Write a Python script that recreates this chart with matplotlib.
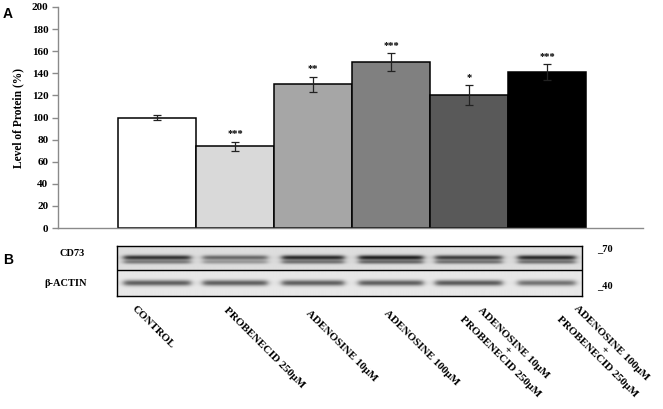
import numpy as np
import matplotlib.pyplot as plt

# Level of protein (%) for each treatment
groups = ['CONTROL', 'PROBENECID 250μM', 'ADENOSINE 10μM', 'ADENOSINE 100μM',
          'ADENOSINE 10μM\n+\nPROBENECID 250μM', 'ADENOSINE 100μM\n+\nPROBENECID 250μM']
levels = [100, 74, 130, 150, 120, 141]
errors = [2, 4, 7, 8, 9, 7]
stars = ['', '***', '**', '***', '*', '***']
bar_colors = ['#ffffff', '#d9d9d9', '#a6a6a6', '#808080', '#595959', '#000000']

# western blot band intensities (0 = none, 1 = darkest)
cd73_upper = [0.90, 0.62, 0.95, 1.00, 0.85, 0.95]
cd73_lower = [0.50, 0.35, 0.55, 0.60, 0.55, 0.55]
actin_band = [0.72, 0.72, 0.72, 0.72, 0.74, 0.62]
lane_width = [0.86, 0.83, 0.80, 0.83, 0.86, 0.74]

W, H = 663, 409
fig = plt.figure(figsize=(W / 100, H / 100), dpi=100)
serif = 'Liberation Serif'


def px_axes(x0, y0, x1, y1):
    return fig.add_axes([x0 / W, 1 - y1 / H, (x1 - x0) / W, (y1 - y0) / H])


def px_text(x, y, s, **kw):
    fig.text(x / W, 1 - y / H, s, **kw)


# ---- panel A: bar chart ----
ax = px_axes(58, 7, 643, 228)
x = np.arange(len(levels))
ax.bar(x, levels, width=1.0, color=bar_colors, edgecolor='black', linewidth=1.1, zorder=2)
ax.errorbar(x, levels, yerr=errors, fmt='none', ecolor='#222222', elinewidth=0.9,
            capsize=3, capthick=0.9, zorder=3)
for xi, v, e, s in zip(x, levels, errors, stars):
    ax.text(xi, v + e + 3, s, ha='center', va='bottom', fontsize=7.5,
            fontweight='bold', family=serif)

ax.set_xlim(-1.269, 6.231)
ax.set_ylim(0, 200)
ax.set_yticks(range(0, 201, 20))
ax.set_xticks([])
for side in ['top', 'right']:
    ax.spines[side].set_visible(False)
for side in ['left', 'bottom']:
    ax.spines[side].set_color('#8a8a8a')
    ax.spines[side].set_linewidth(1.0)
ax.tick_params(axis='y', direction='out', length=4, color='#8a8a8a', width=1.0, pad=3)
for lab in ax.get_yticklabels():
    lab.set_fontfamily(serif)
    lab.set_fontweight('bold')
    lab.set_fontsize(8)
ax.set_ylabel('Level of Protein (%)', fontsize=8.3, fontweight='bold', family=serif, labelpad=5)

px_text(8, 14, 'A', fontsize=10, fontweight='bold', family='Liberation Sans',
        ha='center', va='center')

# ---- panel B: western blot ----
bx = px_axes(117, 246, 582, 296)
xl = (-0.513, 5.45)
xs = np.linspace(xl[0], xl[1], 700)
ys = np.linspace(0, 50, 250)
XX, YY = np.meshgrid(xs, ys)
img = np.where(YY < 24, 0.87, 0.91)
for i in range(len(levels)):
    w = lane_width[i]
    hprof = 0.5 * (np.tanh((XX - (i - w / 2)) / 0.05) - np.tanh((XX - (i + w / 2)) / 0.05))
    up = cd73_upper[i] * np.exp(-0.5 * ((YY - 11.5) / 1.7) ** 2)
    lo = cd73_lower[i] * np.exp(-0.5 * ((YY - 16.0) / 1.4) ** 2)
    ac = actin_band[i] * np.exp(-0.5 * ((YY - 37.0) / 2.1) ** 2)
    img = img - 0.75 * hprof * (up + lo + ac)
bx.imshow(np.clip(img, 0, 1), cmap='gray', vmin=0, vmax=1, extent=[xl[0], xl[1], 50, 0],
          aspect='auto', interpolation='bilinear')
bx.axhline(24, color='black', linewidth=1.0)
bx.set_xlim(xl)
bx.set_ylim(50, 0)
bx.set_xticks([])
bx.set_yticks([])
for sp in bx.spines.values():
    sp.set_linewidth(1.0)

px_text(8, 260, 'B', fontsize=10, fontweight='bold', family='Liberation Sans',
        ha='center', va='center')
px_text(72, 253, 'CD73', fontsize=7.5, fontweight='bold', family=serif, ha='center', va='center')
px_text(66, 284, 'β-ACTIN', fontsize=7.5, fontweight='bold', family=serif, ha='center', va='center')
px_text(597, 251, '_70', fontsize=7.5, fontweight='bold', family=serif, ha='left', va='baseline')
px_text(597, 288, '_40', fontsize=7.5, fontweight='bold', family=serif, ha='left', va='baseline')

# rotated group labels, anchored near each lane
label_anchor_x = [136, 228, 310, 388, 478, 575]
label_anchor_y = [304, 306, 309, 309, 301, 301]
for s, lx, ly in zip(groups, label_anchor_x, label_anchor_y):
    px_text(lx, ly, s, fontsize=8, fontweight='bold', family=serif, rotation=-45,
            rotation_mode='anchor', ha='left', va='top', multialignment='center',
            linespacing=1.1)

fig.savefig('out.png', dpi=100)
